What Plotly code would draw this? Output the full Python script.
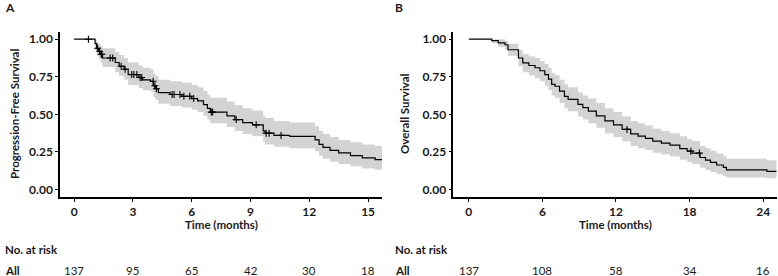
import numpy as np
import plotly.graph_objects as go

# ---------------- Panel A : Progression-free survival ----------------
pfs_time = [0, 1.07, 1.15, 1.25, 1.35, 1.45, 2.1, 2.3, 2.55, 2.76, 3.3, 3.5, 3.9, 4.05, 4.15, 4.3,
            4.9, 5.5, 6.0, 6.3, 6.6, 6.8, 6.95, 7.8, 8.2, 8.6, 9.1, 9.65, 9.75, 10.2, 11.0,
            12.3, 12.5, 12.7, 13.06, 13.5, 14.1, 14.7, 15.36, 15.71]
pfs_surv = [1.0, 0.97, 0.94, 0.92, 0.90, 0.875, 0.845, 0.82, 0.80, 0.765, 0.745, 0.73, 0.72, 0.69, 0.67, 0.645,
            0.632, 0.62, 0.605, 0.59, 0.565, 0.54, 0.515, 0.49, 0.465, 0.445, 0.43, 0.39, 0.375, 0.36, 0.353,
            0.33, 0.30, 0.28, 0.26, 0.243, 0.225, 0.21, 0.199, 0.199]
pfs_low = [1.0, 0.93, 0.89, 0.87, 0.845, 0.815, 0.78, 0.755, 0.73, 0.695, 0.675, 0.66, 0.65, 0.615, 0.595, 0.57,
           0.555, 0.545, 0.53, 0.515, 0.49, 0.465, 0.44, 0.415, 0.39, 0.37, 0.355, 0.315, 0.30, 0.285, 0.275,
           0.255, 0.225, 0.205, 0.185, 0.17, 0.155, 0.14, 0.132, 0.132]
pfs_up = [1.0, 1.0, 0.98, 0.97, 0.955, 0.94, 0.915, 0.895, 0.875, 0.845, 0.825, 0.81, 0.80, 0.77, 0.755, 0.73,
          0.72, 0.71, 0.695, 0.68, 0.655, 0.63, 0.61, 0.585, 0.56, 0.54, 0.525, 0.49, 0.475, 0.455, 0.445,
          0.42, 0.39, 0.37, 0.35, 0.33, 0.315, 0.30, 0.29, 0.29]
pfs_censor = [0.73, 1.2, 1.3, 1.38, 1.42, 1.84, 1.97, 2.4, 2.6, 2.94, 3.05, 3.2, 3.37, 3.45,
              4.03, 4.12, 4.2, 5.0, 5.1, 5.4, 5.6, 5.9, 6.1, 7.0, 7.07, 8.27, 9.29, 9.8, 9.95, 10.56]
pfs_ticks = [0, 3, 6, 9, 12, 15]
pfs_risk = [137, 95, 65, 42, 30, 18]

# ---------------- Panel B : Overall survival ----------------
os_time = [0, 1.87, 2.4, 2.96, 3.2, 4.05, 4.4, 4.9, 5.4, 5.8, 6.2, 6.5, 6.76, 7.03, 7.4, 7.8, 8.1,
           8.9, 9.3, 9.75, 10.4, 11.1, 11.8, 12.5, 13.2, 13.8, 14.4, 15.0, 15.7, 16.4, 17.2, 17.8,
           18.2, 18.85, 19.3, 19.7, 20.2, 20.75, 21.0, 24.3, 25.1]
os_surv = [1.0, 0.99, 0.975, 0.963, 0.93, 0.875, 0.842, 0.825, 0.81, 0.79, 0.765, 0.735, 0.70, 0.687, 0.655, 0.62, 0.60,
           0.566, 0.545, 0.522, 0.49, 0.456, 0.43, 0.40, 0.37, 0.355, 0.34, 0.322, 0.308, 0.295, 0.272, 0.255,
           0.242, 0.213, 0.195, 0.18, 0.163, 0.147, 0.131, 0.12, 0.12]
os_low = [1.0, 0.975, 0.95, 0.93, 0.89, 0.82, 0.78, 0.76, 0.74, 0.72, 0.69, 0.66, 0.625, 0.61, 0.575, 0.54, 0.52,
          0.485, 0.465, 0.44, 0.41, 0.375, 0.35, 0.32, 0.29, 0.275, 0.262, 0.245, 0.232, 0.22, 0.198, 0.183,
          0.17, 0.145, 0.13, 0.117, 0.102, 0.09, 0.08, 0.075, 0.075]
os_up = [1.0, 1.0, 1.0, 0.99, 0.97, 0.93, 0.90, 0.885, 0.875, 0.855, 0.835, 0.81, 0.775, 0.76, 0.73, 0.70, 0.68,
         0.645, 0.625, 0.605, 0.575, 0.54, 0.515, 0.485, 0.455, 0.44, 0.425, 0.405, 0.39, 0.375, 0.355, 0.335,
         0.322, 0.29, 0.275, 0.258, 0.24, 0.225, 0.205, 0.195, 0.195]
os_censor = [12.9, 18.1, 18.8]
os_ticks = [0, 6, 12, 18, 24]
os_risk = [137, 108, 58, 34, 16]

FONT = "Lato"
TXT = "#1a1a1a"
BAND = "rgb(211,211,211)"


def step_lookup(times, surv, t):
    idx = np.searchsorted(np.array(times), t, side="right") - 1
    return float(np.array(surv)[idx])


fig = go.Figure()


def add_panel(times, surv, low, up, censor, xa, ya):
    fig.add_trace(go.Scatter(x=times, y=low, mode="lines", line=dict(width=0, shape="hv"),
                             xaxis=xa, yaxis=ya, hoverinfo="skip", showlegend=False))
    fig.add_trace(go.Scatter(x=times, y=up, mode="lines", line=dict(width=0, shape="hv"),
                             fill="tonexty", fillcolor=BAND, xaxis=xa, yaxis=ya,
                             hoverinfo="skip", showlegend=False))
    fig.add_trace(go.Scatter(x=times, y=surv, mode="lines", line=dict(color="black", width=1.2, shape="hv"),
                             xaxis=xa, yaxis=ya, showlegend=False))
    cy = [step_lookup(times, surv, t) for t in censor]
    fig.add_trace(go.Scatter(x=censor, y=cy, mode="markers",
                             marker=dict(symbol="cross-thin", size=5, line=dict(color="black", width=1.1)),
                             xaxis=xa, yaxis=ya, showlegend=False))


add_panel(pfs_time, pfs_surv, pfs_low, pfs_up, pfs_censor, "x", "y")
add_panel(os_time, os_surv, os_low, os_up, os_censor, "x2", "y2")

W, H = 778, 276
ydom = [1 - 197 / H, 1 - 31.7 / H]
axis_common = dict(showgrid=False, zeroline=False, showline=True, linecolor="black", linewidth=1.5,
                   ticks="outside", ticklen=3, tickcolor="black", tickwidth=1.2,
                   tickfont=dict(family=FONT, size=12, color=TXT, weight="bold"))

xa_dom = [60 / W, 382 / W]
xb_dom = [453.3 / W, 776.7 / W]

fig.update_layout(
    width=W, height=H, margin=dict(l=0, r=0, t=0, b=0),
    paper_bgcolor="white", plot_bgcolor="white", showlegend=False,
    xaxis=dict(domain=xa_dom, range=[-0.72, 15.71], tickvals=pfs_ticks, anchor="y", **axis_common),
    yaxis=dict(domain=ydom, range=[-0.05, 1.05], tickvals=[0, 0.25, 0.5, 0.75, 1.0], tickformat=".2f",
               anchor="x", **axis_common),
    xaxis2=dict(domain=xb_dom, range=[-1.26, 25.1], tickvals=os_ticks, anchor="y2", **axis_common),
    yaxis2=dict(domain=ydom, range=[-0.05, 1.05], tickvals=[0, 0.25, 0.5, 0.75, 1.0], tickformat=".2f",
                anchor="x2", **axis_common),
)

ann = []
bold12 = dict(family=FONT, size=12, color=TXT, weight="bold")
title_font = dict(family=FONT, size=11.5, color=TXT, weight="bold")
lab_font = dict(family=FONT, size=11.5, color=TXT, weight="bold")
for xp, letter, dom, ytitle in [(3, "A", xa_dom, "Progression-Free Survival"),
                                (393, "B", xb_dom, "Overall Survival")]:
    ann.append(dict(text=letter, x=xp / W, y=1 - 7 / H, xref="paper", yref="paper", showarrow=False,
                    xanchor="left", yanchor="middle", font=bold12))
    ann.append(dict(text="Time (months)", x=(dom[0] + dom[1]) / 2, y=1 - 224.5 / H, xref="paper", yref="paper",
                    showarrow=False, xanchor="center", yanchor="middle", font=title_font, borderpad=0))
    ann.append(dict(text=ytitle, x=(xp + 11) / W, y=1 - 114 / H, xref="paper", yref="paper", textangle=-90,
                    showarrow=False, xanchor="center", yanchor="middle", font=lab_font))
    ann.append(dict(text="No. at risk", x=xp / W, y=1 - 249 / H, xref="paper", yref="paper", showarrow=False,
                    xanchor="left", yanchor="middle", font=lab_font))
    ann.append(dict(text="All", x=xp / W, y=1 - 270.5 / H, xref="paper", yref="paper", showarrow=False,
                    xanchor="left", yanchor="middle", font=lab_font))
for xa, ticks, risk in [("x", pfs_ticks, pfs_risk), ("x2", os_ticks, os_risk)]:
    for t, r in zip(ticks, risk):
        ann.append(dict(text=str(r), x=t, y=1 - 270.5 / H, xref=xa, yref="paper", showarrow=False,
                        xanchor="center", yanchor="middle",
                        font=dict(family=FONT, size=11.5, color=TXT)))
fig.update_layout(annotations=ann)

fig.write_html("out.html", config={"displayModeBar": False},
               post_script="document.body.style.margin='0';document.body.style.overflow='hidden';")
